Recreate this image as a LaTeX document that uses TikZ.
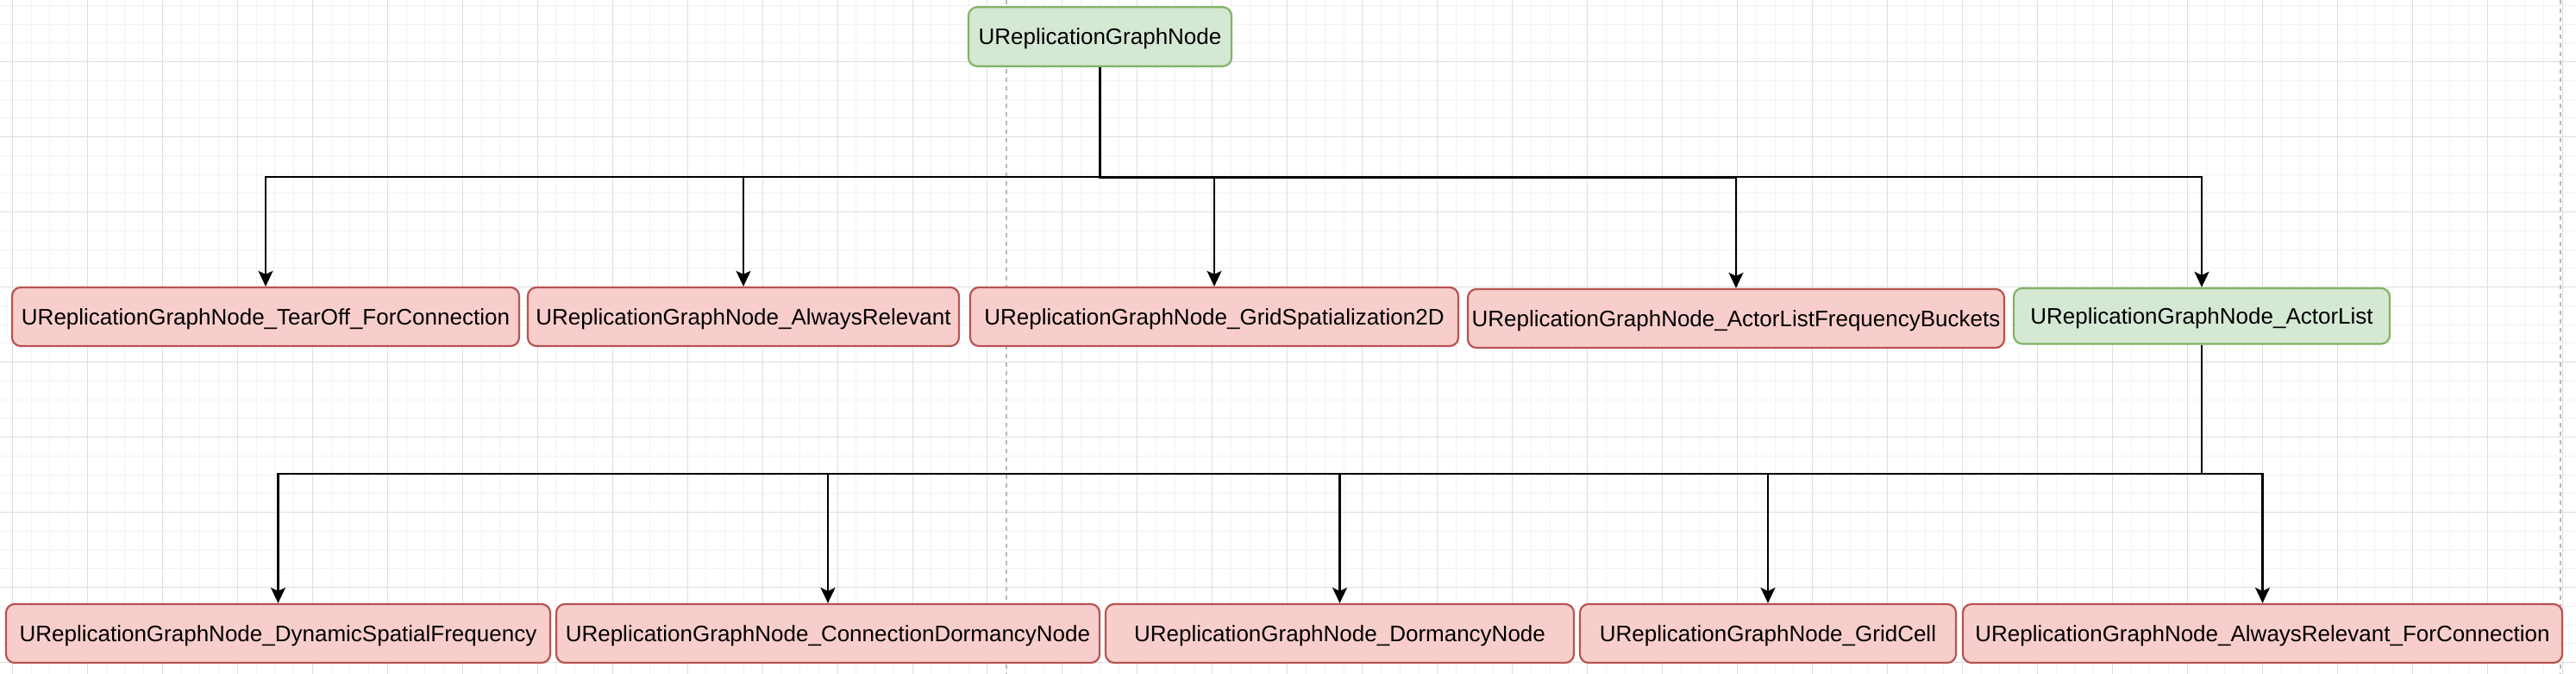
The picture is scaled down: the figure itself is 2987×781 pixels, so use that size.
\documentclass[tikz,border=0pt]{standalone}
\usepackage{fontspec}
\setmainfont{Liberation Sans}
\usetikzlibrary{arrows.meta,calc}
\definecolor{gfill}{HTML}{D5E8D4}
\definecolor{gdraw}{HTML}{82B366}
\definecolor{rfill}{HTML}{F8CECC}
\definecolor{rdraw}{HTML}{B85450}
\definecolor{gridminor}{HTML}{F2F2F2}
\definecolor{gridmajor}{HTML}{DEDEDE}
\begin{document}
\begin{tikzpicture}[x=1bp,y=-1bp,
  nodebox/.style={rectangle,rounded corners=10bp,line width=2.2bp,inner sep=0pt,
    font=\fontsize{26bp}{31bp}\selectfont,text height=18.6bp,text depth=0bp,align=center},
  greenbox/.style={nodebox,fill=gfill,draw=gdraw},
  redbox/.style={nodebox,fill=rfill,draw=rdraw},
  arr/.style={line width=2.2bp,-{Stealth[length=18bp,width=17bp,inset=4bp]}},
  minorline/.style={draw=gridminor,line width=1bp},
  majorline/.style={draw=gridmajor,line width=1bp},
  pagebreak/.style={draw=gray!55,line width=1.2bp,dash pattern=on 5bp off 5bp}]
\useasboundingbox[fill=white] (0,0) rectangle (2987,781);
% grid
\foreach \i in {0,...,136} \draw[minorline] ({14.5+21.74*\i},0) -- ({14.5+21.74*\i},781);
\foreach \j in {0,...,35} \draw[minorline] (0,{6.45+21.75*\j}) -- (2987,{6.45+21.75*\j});
\foreach \i in {0,...,34} \draw[majorline] ({14.5+86.96*\i},0) -- ({14.5+86.96*\i},781);
\foreach \j in {0,...,8} \draw[majorline] (0,{71.7+87*\j}) -- (2987,{71.7+87*\j});
\draw[pagebreak] (1167,0) -- (1167,781);
\draw[pagebreak] (2969,0) -- (2969,781);
% nodes
\node[greenbox,minimum width=305bp,minimum height=68.4bp] (root) at (1275.5,42.5) {UReplicationGraphNode};
\node[redbox,minimum width=588bp,minimum height=68bp] (tearoff) at (308,367) {UReplicationGraphNode\_TearOff\_ForConnection};
\node[redbox,minimum width=500bp,minimum height=68bp] (always) at (862,367) {UReplicationGraphNode\_AlwaysRelevant};
\node[redbox,minimum width=566bp,minimum height=68bp] (grid2d) at (1408,367) {UReplicationGraphNode\_GridSpatialization2D};
\node[redbox,minimum width=622bp,minimum height=68bp] (buckets) at (2013,369) {UReplicationGraphNode\_ActorListFrequencyBuckets};
\node[greenbox,minimum width=436bp,minimum height=64.5bp] (actorlist) at (2553,366.2) {UReplicationGraphNode\_ActorList};
\node[redbox,minimum width=631bp,minimum height=68bp] (dynamic) at (322.5,734) {UReplicationGraphNode\_DynamicSpatialFrequency};
\node[redbox,minimum width=630bp,minimum height=68bp] (conndorm) at (960,734) {UReplicationGraphNode\_ConnectionDormancyNode};
\node[redbox,minimum width=543bp,minimum height=68bp] (dormancy) at (1553.5,734) {UReplicationGraphNode\_DormancyNode};
\node[redbox,minimum width=436bp,minimum height=68bp] (gridcell) at (2050,734) {UReplicationGraphNode\_GridCell};
\node[redbox,minimum width=695bp,minimum height=68bp] (alwaysconn) at (2623.5,734) {UReplicationGraphNode\_AlwaysRelevant\_ForConnection};
% connectors
\foreach \t in {tearoff,always,grid2d,buckets,actorlist}
  \draw[arr] (root.south) |- ($(root.south)!0.5!(\t.north)$) -| (\t.north);
\foreach \t in {dynamic,conndorm,dormancy,gridcell,alwaysconn}
  \draw[arr] (actorlist.south) |- ($(actorlist.south)!0.5!(\t.north)$) -| (\t.north);
\end{tikzpicture}
\end{document}
